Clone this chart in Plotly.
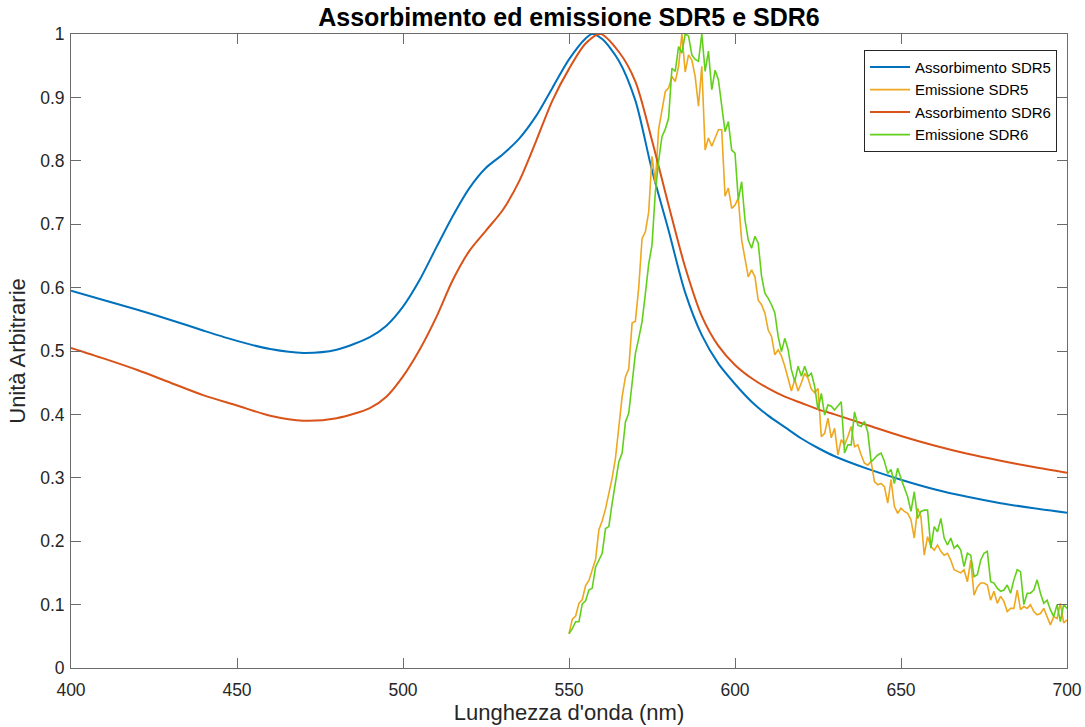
import plotly.graph_objects as go

# Absorption spectra (normalised), sampled at selected wavelengths
abs_nm_sdr5 = [400, 410, 420, 430, 440, 450, 460, 470, 480, 490, 495, 500, 505, 510, 515,
               520, 525, 530, 535, 540, 545, 550, 555, 557, 560, 565, 570, 575, 580, 585,
               590, 595, 600, 605, 610, 615, 620, 625, 630, 640, 650, 660, 670, 680, 690, 700]
abs_sdr5 = [0.595, 0.580, 0.565, 0.549, 0.532, 0.516, 0.503, 0.497, 0.502, 0.522, 0.540, 0.570,
            0.612, 0.663, 0.713, 0.757, 0.789, 0.810, 0.835, 0.870, 0.915, 0.960, 0.993, 1.000,
            0.992, 0.958, 0.895, 0.785, 0.690, 0.592, 0.525, 0.480, 0.448, 0.420, 0.398, 0.380,
            0.362, 0.347, 0.334, 0.314, 0.297, 0.282, 0.270, 0.260, 0.252, 0.245]

abs_nm_sdr6 = [400, 410, 420, 430, 440, 450, 460, 470, 480, 490, 495, 500, 505, 510, 515,
               520, 525, 530, 535, 540, 545, 550, 555, 559.5, 565, 570, 575, 580, 585,
               590, 595, 600, 605, 610, 615, 620, 625, 630, 640, 650, 660, 670, 680, 690, 700]
abs_sdr6 = [0.505, 0.488, 0.470, 0.450, 0.430, 0.414, 0.398, 0.390, 0.394, 0.410, 0.428, 0.460,
            0.502, 0.553, 0.612, 0.658, 0.690, 0.722, 0.768, 0.830, 0.895, 0.945, 0.985, 1.000,
            0.972, 0.925, 0.832, 0.730, 0.632, 0.555, 0.508, 0.478, 0.457, 0.441, 0.428,
            0.418, 0.408, 0.400, 0.383, 0.366, 0.351, 0.338, 0.327, 0.317, 0.308]

# Emission spectra (normalised), 1 nm steps from 550 to 700 nm
em_nm = list(range(550, 701))
em_sdr5 = [0.054, 0.077, 0.082, 0.102, 0.108, 0.130, 0.138, 0.155, 0.171, 0.218,
           0.232, 0.251, 0.275, 0.300, 0.331, 0.375, 0.428, 0.459, 0.472, 0.544,
           0.547, 0.600, 0.677, 0.688, 0.719, 0.807, 0.765, 0.850, 0.880, 0.909,
           0.915, 0.933, 0.925, 0.949, 1.000, 0.940, 0.967, 0.959, 0.933, 0.886,
           0.949, 0.817, 0.836, 0.823, 0.836, 0.849, 0.849, 0.744, 0.757, 0.725,
           0.730, 0.741, 0.675, 0.644, 0.617, 0.628, 0.617, 0.580, 0.573, 0.560,
           0.533, 0.523, 0.494, 0.502, 0.492, 0.476, 0.455, 0.437, 0.455, 0.437,
           0.450, 0.465, 0.457, 0.440, 0.434, 0.441, 0.365, 0.370, 0.394, 0.363,
           0.378, 0.336, 0.360, 0.352, 0.365, 0.381, 0.349, 0.352, 0.336, 0.323,
           0.320, 0.326, 0.294, 0.289, 0.291, 0.286, 0.260, 0.297, 0.255, 0.244,
           0.252, 0.247, 0.244, 0.234, 0.205, 0.252, 0.239, 0.178, 0.207, 0.192,
           0.186, 0.194, 0.184, 0.178, 0.181, 0.170, 0.155, 0.152, 0.150, 0.155,
           0.136, 0.170, 0.115, 0.128, 0.134, 0.134, 0.131, 0.107, 0.121, 0.102,
           0.113, 0.105, 0.089, 0.094, 0.094, 0.123, 0.092, 0.097, 0.094, 0.100,
           0.089, 0.084, 0.086, 0.094, 0.081, 0.068, 0.081, 0.078, 0.102, 0.071,
           0.076]
em_sdr6 = [0.054, 0.062, 0.073, 0.073, 0.101, 0.106, 0.123, 0.126, 0.159, 0.170,
           0.181, 0.220, 0.223, 0.260, 0.290, 0.325, 0.339, 0.388, 0.402, 0.450,
           0.496, 0.520, 0.546, 0.590, 0.637, 0.667, 0.750, 0.800, 0.838, 0.850,
           0.867, 0.946, 0.941, 0.980, 0.970, 1.000, 0.997, 0.967, 0.960, 0.957,
           1.000, 0.941, 0.973, 0.912, 0.943, 0.928, 0.885, 0.846, 0.862, 0.817,
           0.812, 0.738, 0.767, 0.707, 0.675, 0.662, 0.681, 0.670, 0.618, 0.591,
           0.583, 0.573, 0.560, 0.523, 0.499, 0.520, 0.502, 0.470, 0.452, 0.476,
           0.460, 0.476, 0.460, 0.465, 0.444, 0.407, 0.433, 0.399, 0.415, 0.413,
           0.407, 0.413, 0.420, 0.339, 0.352, 0.352, 0.404, 0.383, 0.381, 0.389,
           0.372, 0.325, 0.330, 0.336, 0.339, 0.326, 0.307, 0.313, 0.291, 0.315,
           0.299, 0.284, 0.270, 0.247, 0.278, 0.236, 0.247, 0.249, 0.249, 0.189,
           0.223, 0.215, 0.236, 0.205, 0.194, 0.205, 0.189, 0.194, 0.186, 0.160,
           0.181, 0.178, 0.144, 0.147, 0.170, 0.181, 0.184, 0.136, 0.134, 0.126,
           0.121, 0.123, 0.131, 0.118, 0.139, 0.155, 0.152, 0.100, 0.118, 0.118,
           0.123, 0.139, 0.118, 0.102, 0.107, 0.092, 0.081, 0.100, 0.073, 0.100,
           0.094]

x_ticks = [400, 450, 500, 550, 600, 650, 700]
y_ticks = [0, 0.1, 0.2, 0.3, 0.4, 0.5, 0.6, 0.7, 0.8, 0.9, 1]
y_tick_text = ["0", "0.1", "0.2", "0.3", "0.4", "0.5", "0.6", "0.7", "0.8", "0.9", "1"]

FONT = "Liberation Sans, Arial, Helvetica, sans-serif"
TXT = "#262626"
AXC = "#6b6b6b"

fig = go.Figure()
fig.add_trace(go.Scatter(x=abs_nm_sdr5, y=abs_sdr5, mode="lines", name="Assorbimento SDR5",
                         line=dict(color="#0072BD", width=2, shape="spline", smoothing=0.8)))
fig.add_trace(go.Scatter(x=em_nm, y=em_sdr5, mode="lines", name="Emissione SDR5",
                         line=dict(color="#EDA820", width=1.6)))
fig.add_trace(go.Scatter(x=abs_nm_sdr6, y=abs_sdr6, mode="lines", name="Assorbimento SDR6",
                         line=dict(color="#D95319", width=2, shape="spline", smoothing=0.8)))
fig.add_trace(go.Scatter(x=em_nm, y=em_sdr6, mode="lines", name="Emissione SDR6",
                         line=dict(color="#62D01A", width=1.6)))

fig.update_layout(
    width=1085, height=727,
    margin=dict(l=71, r=18, t=34, b=59, autoexpand=False),
    paper_bgcolor="white", plot_bgcolor="white",
    font=dict(family=FONT, color=TXT, size=17),
    title=dict(text="<b>Assorbimento ed emissione SDR5 e SDR6</b>",
               x=(71 + 1067) / 2 / 1085, xanchor="center",
               y=1 - 17 / 727, yanchor="middle",
               font=dict(family=FONT, size=25, color="black")),
    showlegend=True,
    legend=dict(x=0.99, xanchor="right", y=0.975, yanchor="top",
                bgcolor="white", bordercolor=TXT, borderwidth=1,
                font=dict(family=FONT, size=15, color="black"),
                tracegroupgap=0, itemwidth=40),
)
fig.update_xaxes(
    range=[400, 700], tickvals=x_ticks, ticktext=[str(v) for v in x_ticks],
    showgrid=False, zeroline=False, automargin=False,
    showline=True, linecolor=AXC, linewidth=1, mirror="ticks",
    ticks="inside", ticklen=10, tickcolor=AXC, ticklabelstandoff=6,
    tickfont=dict(size=17.5, color=TXT),
    title=dict(text="Lunghezza d'onda (nm)", font=dict(size=22, color=TXT), standoff=4),
)
fig.update_yaxes(
    range=[0, 1], tickvals=y_ticks, ticktext=y_tick_text,
    showgrid=False, zeroline=False, automargin=False,
    showline=True, linecolor=AXC, linewidth=1, mirror="ticks",
    ticks="inside", ticklen=10, tickcolor=AXC, ticklabelstandoff=2,
    tickfont=dict(size=17.5, color=TXT),
    title=dict(text="Unità Arbitrarie", font=dict(size=22, color=TXT), standoff=8),
)

fig.write_html("out.html")
